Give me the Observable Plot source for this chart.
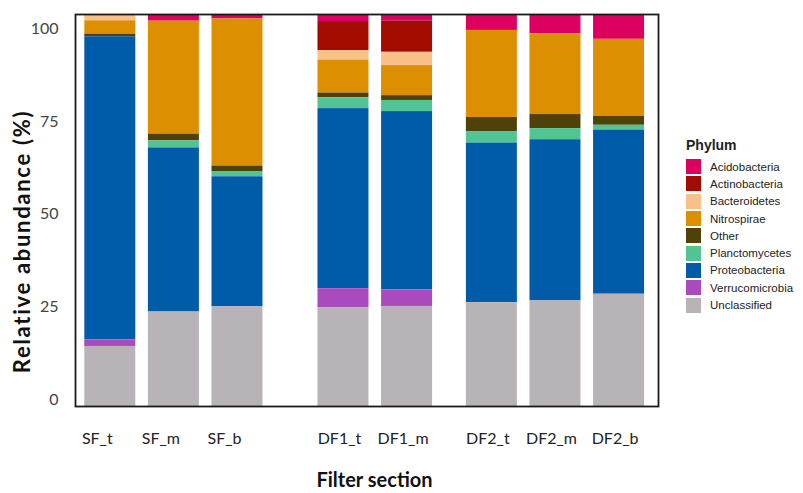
<!DOCTYPE html>
<html>
<head>
<meta charset="utf-8">
<script src="https://cdn.jsdelivr.net/npm/d3@7"></script>
<script src="https://cdn.jsdelivr.net/npm/@observablehq/plot@0.6"></script>
<style>
  html, body { margin: 0; padding: 0; background: #fff; }
  #wrap { position: relative; width: 803px; height: 493px; }
  #legend { position: absolute; left: 686px; top: 137px; font-family: "Liberation Sans", Arial, sans-serif; color: #222; }
  #legend .title { font-weight: bold; font-size: 14px; margin-bottom: 5px; }
  #legend .row { display: flex; align-items: center; height: 17.3px; font-size: 11.5px; }
  #legend .sw { width: 15px; height: 15px; margin-right: 9px; }
</style>
</head>
<body>
<div id="wrap"></div>
<script>
// ---- data ----
const samples  = ["SF_t", "SF_m", "SF_b", "DF1_t", "DF1_m", "DF2_t", "DF2_m", "DF2_b"];
const sections = ["SF", "SF", "SF", "DF1", "DF1", "DF2", "DF2", "DF2"];
const phyla = ["Acidobacteria", "Actinobacteria", "Bacteroidetes", "Nitrospirae", "Other",
               "Planctomycetes", "Proteobacteria", "Verrucomicrobia", "Unclassified"];
const phylumColors = ["#dc0060", "#a30b00", "#f9c088", "#dc8f00", "#4f4208",
                      "#50c493", "#005ba8", "#a94bbf", "#b8b3b7"];

const acidobacteria   = [0,    1.6,  1.0,  1.8,  1.8,  4.2,  5.1,  6.5];
const actinobacteria  = [0,    0,    0,    7.9,  8.4,  0,    0,    0];
const bacteroidetes   = [1.6,  0,    0,    2.5,  3.6,  0,    0,    0];
const nitrospirae     = [3.6,  30.5, 39.7, 8.9,  8.1,  23.5, 21.8, 20.8];
const other           = [0.7,  1.8,  1.6,  1.3,  1.3,  3.9,  3.8,  2.4];
const planctomycetes  = [0,    1.9,  1.3,  2.9,  3.0,  3.0,  3.0,  1.3];
const proteobacteria  = [81.8, 44.3, 35.1, 48.6, 48.1, 43.1, 43.5, 44.3];
const verrucomicrobia = [1.8,  0,    0,    5.2,  4.5,  0,    0,    0];
const unclassified    = [16.2, 25.5, 26.9, 26.6, 27.0, 28.0, 28.5, 30.3];

const yTicks = [0, 25, 50, 75, 100];

// ---- build table ----
const series = [acidobacteria, actinobacteria, bacteroidetes, nitrospirae, other,
                planctomycetes, proteobacteria, verrucomicrobia, unclassified];

// layout: extra spacing (in bar steps) before each new filter section
const sectionGap = {SF: 0, DF1: 2 / 3, DF2: 1 / 3};
// horizontal nudge of the sample labels per section (pixels)
const sectionLabelDx = {SF: -13, DF1: -4, DF2: -4};

let offset = 0;
const pos = samples.map((s, i) => {
  if (i > 0 && sections[i] !== sections[i - 1]) offset += sectionGap[sections[i]];
  return i + offset;
});

const table = [];
phyla.forEach((p, j) => {
  samples.forEach((s, i) => {
    table.push({sample: s, phylum: p, value: series[j][i], x1: pos[i] - 0.5, x2: pos[i] + 0.5});
  });
});

const totals = samples.map((s, i) => d3.sum(series, a => a[i]));
const yMax = d3.max(totals);
const stackOrder = phyla.slice().reverse(); // Unclassified at bottom

const font = "Lato, 'Open Sans', sans-serif";

const sectionNames = Array.from(new Set(sections));
const xAxes = sectionNames.map(sec => Plot.axisX({
  ticks: pos.filter((p, i) => sections[i] === sec),
  tickSize: 0, tickPadding: 26, dx: sectionLabelDx[sec],
  tickFormat: (d) => samples[pos.indexOf(d)],
  fontSize: 16, color: "#222", label: null
}));

const chart = Plot.plot({
  width: 803,
  height: 493,
  marginLeft: 75,
  marginRight: 145,
  marginTop: 14,
  marginBottom: 87,
  style: {fontFamily: font, background: "#fff"},
  x: {domain: [pos[0] - 0.547, pos[pos.length - 1] + 0.62], axis: null},
  y: {domain: [0, yMax], axis: null},
  color: {domain: phyla, range: phylumColors},
  marks: [
    Plot.rectY(table, {
      x1: "x1", x2: "x2", y: "value", fill: "phylum",
      order: stackOrder, insetLeft: 6.3, insetRight: 6.3, clip: true
    }),
    Plot.frame({stroke: "#1a1a1a", strokeWidth: 1.8}),
    Plot.axisY({
      ticks: yTicks, tickSize: 0, tickPadding: 17, dy: -7,
      fontSize: 16, color: "#444", label: null
    }),
    ...xAxes,
    Plot.text(["Relative abundance (%)"], {
      frameAnchor: "left", textAnchor: "middle", rotate: -90, dx: -53, dy: 31,
      fontSize: 22, fontWeight: "bold", fill: "#111"
    }),
    Plot.text(["Filter section"], {
      frameAnchor: "bottom", dx: 7.5, dy: 80,
      fontSize: 20, fontWeight: "bold", fill: "#111"
    })
  ]
});

const wrap = document.getElementById("wrap");
wrap.appendChild(chart);
chart.querySelectorAll("text").forEach(t => {
  if (t.textContent === "Relative abundance (%)") t.style.letterSpacing = "1.7px";
});

// legend
const legend = document.createElement("div");
legend.id = "legend";
const title = document.createElement("div");
title.className = "title";
title.textContent = "Phylum";
legend.appendChild(title);
phyla.forEach((p, j) => {
  const row = document.createElement("div");
  row.className = "row";
  const sw = document.createElement("div");
  sw.className = "sw";
  sw.style.background = phylumColors[j];
  const lab = document.createElement("span");
  lab.textContent = p;
  row.appendChild(sw);
  row.appendChild(lab);
  legend.appendChild(row);
});
wrap.appendChild(legend);
</script>
</body>
</html>
